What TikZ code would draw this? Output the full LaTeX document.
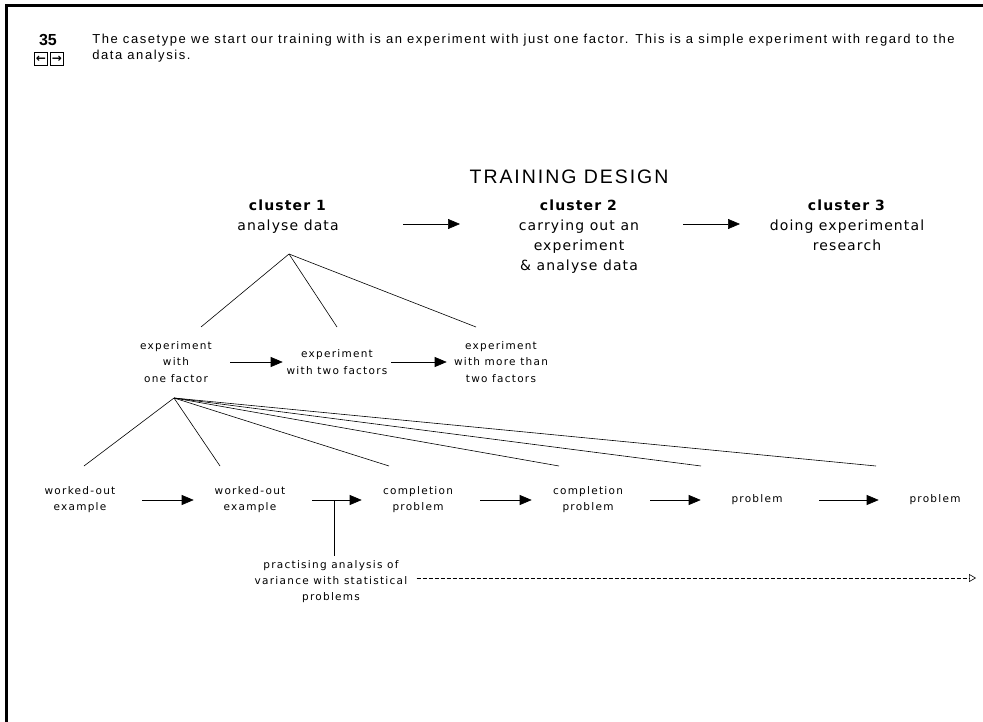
\documentclass[tikz,border=0pt]{standalone}
\usepackage{fontspec}
\setmainfont{Liberation Sans}
\newfontfamily\introfont[LetterSpace=12]{Liberation Sans}
\newfontfamily\titlefont[LetterSpace=10]{Liberation Sans}
\newfontfamily\clusterfont[LetterSpace=8]{DejaVu Sans}
\newfontfamily\smallfont[LetterSpace=12]{DejaVu Sans}
\newfontfamily\keyfont{DejaVu Sans}
\usetikzlibrary{arrows.meta}

\begin{document}
\begin{tikzpicture}[x=1pt,y=-1pt,>={Triangle[length=12pt,width=10pt]},
                    cluster node/.style={font=\clusterfont\fontsize{14}{20}\selectfont,align=center,inner sep=0pt,anchor=north},
                    step node/.style={font=\smallfont\fontsize{10.5}{16.5}\selectfont,align=center,inner sep=0pt,minimum width=108pt},
                    task node/.style={font=\smallfont\fontsize{10.5}{16}\selectfont,align=center,inner sep=0pt,minimum width=112pt},
                    key node/.style={draw,line width=0.9pt,minimum size=13pt,inner sep=0pt,font=\keyfont\bfseries\fontsize{12}{12}\selectfont},
                    line width=0.6pt]
  \useasboundingbox (0,0) rectangle (983,722);
  \draw[line width=3pt] (6,722) -- (6,6) -- (983,6);

  % header
  \node[font=\bfseries\fontsize{16}{16}\selectfont] (num) at (48,40) {35};
  \node[key node] (prev) at (41,59) {←};
  \node[key node] (next) at (57,59) {→};
  \node[anchor=base west,inner sep=0pt,font=\introfont\fontsize{13}{15}\selectfont] (intro1) at (92,44)
    {The casetype we start our training with is an experiment with just one factor. This is a simple experiment with regard to the};
  \node[anchor=base west,inner sep=0pt,font=\introfont\fontsize{13}{15}\selectfont] (intro2) at (92,60) {data analysis.};

  \node[font=\titlefont\fontsize{19.5}{20}\selectfont] (title) at (569,177) {TRAINING DESIGN};

  % clusters
  \node[cluster node] (c1) at (288,200) {\textbf{cluster 1}\\analyse data};
  \node[cluster node] (c2) at (579,200) {\textbf{cluster 2}\\carrying out an\\experiment\\\& analyse data};
  \node[cluster node] (c3) at (847,200) {\textbf{cluster 3}\\doing experimental\\research};
  \draw[->] (403,224) -- (460,224);
  \draw[->] (683,224) -- (740,224);

  % designs
  \coordinate (top) at (289,254);
  \node[step node] (d1) at (176,362) {experiment\\with\\one factor};
  \node[step node] (d2) at (337,362) {experiment\\with two factors};
  \node[step node] (d3) at (501,362) {experiment\\with more than\\two factors};
  \coordinate (d1 end) at (201,327);
  \coordinate (d2 end) at (337,327);
  \coordinate (d3 end) at (476,327);
  \draw (top) -- (d1 end);
  \draw (top) -- (d2 end);
  \draw (top) -- (d3 end);
  \path[->] (d1) edge (d2)
            (d2) edge (d3);

  % tasks
  \coordinate (fan) at (174,398);
  \node[task node] (t1) at (80,500) {worked-out\\example};
  \node[task node] (t2) at (250,500) {worked-out\\example};
  \node[task node] (t3) at (418,500) {completion\\problem};
  \node[task node] (t4) at (588,500) {completion\\problem};
  \node[task node] (t5) at (757,500) {problem};
  \node[task node] (t6) at (935,500) {problem};
  \foreach \x/\n in {84/1,220/2,389/3,559/4,701/5,876/6}
    \draw (fan) -- (\x,466);
  \path[->,shorten <=6pt] (t1) edge (t2)
            (t2) edge coordinate[pos=0.5] (split) (t3)
            (t3) edge (t4)
            (t4) edge (t5)
            (t5) edge (t6);

  \node[font=\smallfont\fontsize{10.5}{16}\selectfont,align=center,inner sep=1pt] (prac) at (331,582)
    {practising analysis of\\variance with statistical\\problems};
  \draw[shorten >=4pt] (split) -- (split |- prac.north);
  \coordinate (prac end) at (976,578);
  \draw[dashed,dash pattern=on 4pt off 2pt,-{Triangle[open,length=7pt,width=8pt]}] (prac.east |- prac end) ++(8,0) -- (prac end);
\end{tikzpicture}
\end{document}
